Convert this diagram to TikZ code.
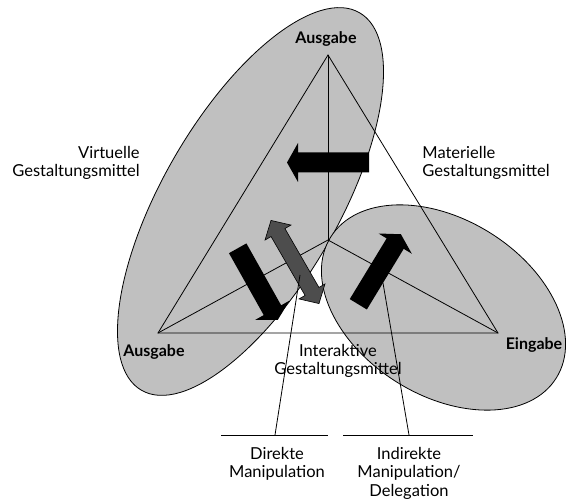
\documentclass[tikz,border=0pt]{standalone}
\usepackage{fontspec}
\setmainfont{Lato}
\usepackage{tikz}
\usetikzlibrary{arrows}
\definecolor{ovalgray}{RGB}{192,192,192}
\definecolor{dirgray}{RGB}{77,77,77}
\tikzset{
	oval/.style={draw=black, fill=ovalgray, line width=0.8pt},
	lbl/.style={font=\fontsize{16.5}{18.5}\selectfont, inner sep=0pt},
	corner/.style={font=\fontsize{16}{18}\selectfont\bfseries, inner sep=0pt}
}

\begin{document}
\begin{tikzpicture}[x=1pt, y=-1pt, line width=0.8pt]
		\useasboundingbox (0,0) rectangle (568,502);
		\def\solid{ (0,10) -- (71,10) -- (71,19.5) -- (82,0) -- (71,-19.5) -- (71,-10) -- (0,-10) -- cycle};
		\def\twoway{ (-48,0) -- (-34,15) -- (-34,8) -- (34,8) -- (34,15) -- (48,0) -- (34,-15) -- (34,-8) -- (-34,-8) -- (-34,-15) -- cycle};
		% the two ovals
		\draw[oval, rotate around={60:(250.5,201.5)}] (250.5,201.5) ellipse [x radius=218, y radius=88];
		\draw[oval, rotate around={-32:(443.5,307.5)}] (443.5,307.5) ellipse [x radius=133, y radius=88];
		% triangle
		\coordinate (top) at (328,55);
		\coordinate (bl) at (158,333);
		\coordinate (br) at (498,333);
		\coordinate (mid) at (328,240);
		\draw (top) -- (bl) -- (br) -- cycle;
		\draw (mid) -- (top); \draw (mid) -- (bl); \draw (mid) -- (br);
		% arrows
		\fill[black, shift={(369,162.5)}, rotate=180] \solid;
		\fill[black, shift={(237.7,248.3)}, rotate=-60.7] \solid;
		\fill[black, shift={(358.3,304.3)}, rotate=58.7] \solid;
		\filldraw[fill=dirgray, draw=black, line width=0.6pt, shift={(295,262)}, rotate=-60] \twoway;
		% corner labels
		\node[corner] (topout) at (326,39) {Ausgabe};
		\node[corner] (leftout) at (154,352) {Ausgabe};
		\node[corner] (inp) at (534,345) {Eingabe};
		\node[lbl, align=right, anchor=east] (virt) at (140,163) {Virtuelle\\Gestaltungsmittel};
		\node[lbl, align=left, anchor=west] (mat) at (422,163) {Materielle\\Gestaltungsmittel};
		\node[lbl, align=center] (inter) at (338,361) {Interaktive\\Gestaltungsmittel};
		% manipulation labels
		\coordinate (dl) at (221,435); \coordinate (dr) at (328,435);
		\coordinate (il) at (343,435); \coordinate (ir) at (473,435);
		\coordinate (dfoot) at (275,435); \coordinate (dhead) at (300,275);
		\coordinate (ifoot) at (409,435); \coordinate (ihead) at (383,283);
		\draw (dl) -- (dr);
		\draw (il) -- (ir);
		\draw (dhead) -- (dfoot);
		\draw (ihead) -- (ifoot);
		\node[lbl, align=center, anchor=north] (direct) at (277,446.5) {Direkte\\Manipulation};
		\node[lbl, align=center, anchor=north] (indirect) at (409,446.5) {Indirekte\\Manipulation/\\Delegation};
	\end{tikzpicture}
\end{document}
